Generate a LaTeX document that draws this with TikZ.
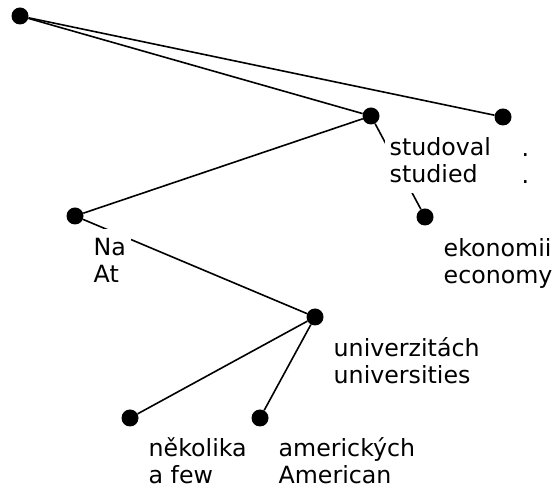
\documentclass[tikz,border=0pt]{standalone}
\usepackage{fontspec}
\setmainfont{DejaVu Sans}
\newcommand{\glosspair}[2]{\rule{0pt}{21.5pt}#1\\#2\rule[-5.5pt]{0pt}{5.5pt}}
\newcommand{\lastpair}[2]{\rule{0pt}{21.5pt}#1\\#2}
\begin{document}
\begin{tikzpicture}[x=1pt,y=1pt,
  dot/.style={circle,fill=black,inner sep=0pt,minimum size=17pt},
  edge/.style={line width=1.6pt},
  gloss/.style={anchor=north west,fill=white,inner sep=5pt,align=left,
    font=\fontsize{23.7pt}{27.8pt}\selectfont},
  lastgloss/.style={gloss,inner ysep=2pt,font=\fontsize{23.7pt}{27pt}\selectfont}]
\useasboundingbox (0,0) rectangle (559,489);

% word positions
\node[dot] (root) at (20,473) {};
\node[dot] (stud) at (371,373) {};
\node[dot] (stop) at (503,372) {};
\node[dot] (na)   at (75,273) {};
\node[dot] (ekon) at (425,272) {};
\node[dot] (univ) at (315,172) {};
\node[dot] (nek)  at (130,71) {};
\node[dot] (amer) at (260,71) {};

% dependency arcs
\draw[edge] (root) -- (stud);
\draw[edge] (root) -- (stop);
\draw[edge] (stud) -- (na);
\draw[edge] (stud) -- (ekon);
\draw[edge] (na) -- (univ);
\draw[edge] (univ) -- (nek);
\draw[edge] (univ) -- (amer);

% word / gloss labels
\node[gloss] (studL) at ([shift={(13.5pt,-12.4pt)}]stud.center) {\glosspair{studoval}{studied}};
\node[gloss] (stopL) at ([shift={(13.5pt,-12.4pt)}]stop.center) {\glosspair{.}{.}};
\node[gloss] (naL)   at ([shift={(13.5pt,-12.4pt)}]na.center)   {\glosspair{Na}{At}};
\node[gloss] (ekonL) at ([shift={(13.5pt,-12.4pt)}]ekon.center) {\glosspair{ekonomii}{economy}};
\node[gloss] (univL) at ([shift={(13.5pt,-12.4pt)}]univ.center) {\glosspair{univerzitách}{universities}};
\node[lastgloss] (nekL)  at ([shift={(13.5pt,-14.4pt)}]nek.center)  {\lastpair{několika}{a few}};
\node[lastgloss] (amerL) at ([shift={(13.5pt,-14.4pt)}]amer.center) {\lastpair{amerických}{American}};
\end{tikzpicture}
\end{document}
